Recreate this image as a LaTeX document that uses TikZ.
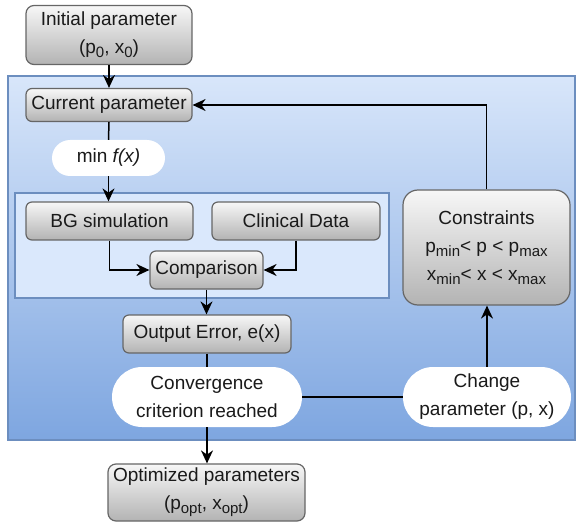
\documentclass[tikz,border=0pt]{standalone}
\usepackage{fontspec}
\setmainfont{Liberation Sans}
\usetikzlibrary{arrows.meta}

\definecolor{bluetop}{HTML}{D8E6FA}
\definecolor{bluebot}{HTML}{7EA6E0}
\definecolor{blueline}{HTML}{6C8EBF}
\definecolor{innerfill}{HTML}{DAE8FC}
\definecolor{greytop}{HTML}{F7F7F7}
\definecolor{greybot}{HTML}{B3B3B3}
\definecolor{greyline}{HTML}{666666}
\definecolor{txt}{HTML}{1A1A1A}

\newcommand\subx[1]{\raisebox{-0.4ex}{\fontsize{15}{15}\selectfont #1}}

\tikzset{
  basefont/.style={font=\fontsize{19}{28}\selectfont, text=txt, align=center, inner sep=0pt},
  gbox/.style={basefont, draw=greyline, line width=1.2pt, top color=greytop, bottom color=greybot, rounded corners=6pt},
  pill/.style={basefont, fill=white, draw=none},
  conn/.style={line width=1.5pt, black},
  arr/.style={conn, -{Stealth[length=13pt,width=12pt]}},
}

\begin{document}
\begin{tikzpicture}[x=1pt,y=-1pt]
\useasboundingbox (0,0) rectangle (579,524);

% outer blue region
\shade[top color=bluetop, bottom color=bluebot] (8,76) rectangle (575,440);
\draw[blueline, line width=1.5pt] (8,76) rectangle (575,440);

% inner light region
\draw[blueline, line width=1.5pt, fill=innerfill] (15,193) rectangle (389,298);

% nodes
\node[gbox, minimum width=166pt, minimum height=59pt, rounded corners=8pt] (init) at (109,35) {Initial parameter\\(p\subx{0}, x\subx{0})};
\node[gbox, minimum width=166pt, minimum height=33pt] (cur) at (109,105) {Current parameter};
\node[pill, minimum width=113pt, minimum height=36pt, rounded corners=18pt] (minf) at (108.5,158) {min \textit{f(x)}};
\node[gbox, minimum width=167pt, minimum height=38pt] (bg) at (109.5,221) {BG simulation};
\node[gbox, minimum width=168pt, minimum height=38pt] (clin) at (296,221) {Clinical Data};
\node[gbox, minimum width=113pt, minimum height=38pt] (comp) at (206.5,270) {Comparison};
\node[gbox, minimum width=168pt, minimum height=38pt] (out) at (207,334) {Output Error, e(x)};
\node[pill, minimum width=190pt, minimum height=60pt, rounded corners=30pt] (conv) at (207,397) {Convergence\\criterion reached};
\node[pill, minimum width=168pt, minimum height=60pt, rounded corners=30pt] (chg) at (487,397) {Change\\parameter (p, x)};
\node[gbox, minimum width=167pt, minimum height=115pt, rounded corners=15pt] (cons) at (486.5,247.5) {Constraints\\p\subx{min}< p < p\subx{max}\\x\subx{min}< x < x\subx{max}};
\node[gbox, minimum width=197pt, minimum height=57pt, rounded corners=8pt] (opt) at (206.5,492.5) {Optimized parameters\\(p\subx{opt}, x\subx{opt})};

% connectors
\draw[arr] (init.south) -- (cur.north);
\draw[conn] (cur.south) -- (minf.north);
\draw[arr] (minf.south) -- (bg.north -| minf.south);
\draw[arr] (bg.south) |- (comp.west);
\draw[arr] (clin.south) |- (comp.east);
\draw[arr] (comp.south) -- (out.north -| comp.south);
\draw[conn] (out.south) -- (conv.north);
\draw[arr] (conv.south) -- (opt.north -| conv.south);
\draw[conn] (conv.east) -- (chg.west);
\draw[arr] (chg.north) -- (cons.south -| chg.north);
\draw[arr] (cons.north) |- (cur.east);
\end{tikzpicture}
\end{document}
